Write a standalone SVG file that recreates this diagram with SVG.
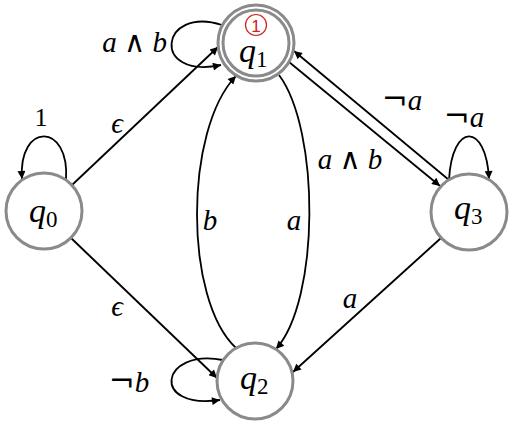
<svg xmlns="http://www.w3.org/2000/svg" width="511" height="421" viewBox="0 0 511 421">
<defs>
<marker id="arr" viewBox="0 0 10 10" refX="10" refY="5" markerWidth="10" markerHeight="8" markerUnits="userSpaceOnUse" orient="auto">
<path d="M0,0 L10,5 L0,10 z" fill="#000"/>
</marker>
<style>
.st{fill:#fff;stroke:#8a8a8a;stroke-width:3}
.e{fill:none;stroke:#000;stroke-width:1.8;marker-end:url(#arr)}
.q{font-family:"Liberation Serif","DejaVu Serif",serif;font-style:italic;font-size:34px;fill:#000}
.sub{font-family:"Liberation Serif","DejaVu Serif",serif;font-size:23px;fill:#000}
.lb{font-family:"Liberation Serif","DejaVu Serif",serif;font-style:italic;font-size:29px;fill:#000}
.and{font-family:"DejaVu Serif",serif;font-style:normal;font-size:29px}
.neg{font-family:"DejaVu Serif",serif;font-style:normal;font-size:31px}
</style>
</defs>
<rect width="511" height="421" fill="#fff"/>
<g id="edges">
<path class="e" d="M66,180 C70,122 18,122 22,179"/>
<path class="e" d="M72,185 L218,47"/>
<path class="e" d="M222,25 C160,5 150,80 221,65"/>
<path class="e" d="M279,75 C320,130 320,300 276,349"/>
<path class="e" d="M236,348 C184,300 184,130 236,76"/>
<path class="e" d="M449,180 L294,51"/>
<path class="e" d="M289,62 L440,186"/>
<path class="e" d="M449,180 C452,122 486,122 489,179"/>
<path class="e" d="M441,238 L293,372"/>
<path class="e" d="M71,238 L217,378"/>
<path class="e" d="M223,360 C160,348 150,410 220,400"/>
</g>
<g id="labels">
<text class="lb" x="41" y="126" text-anchor="middle" style="font-style:normal;font-size:26px">1</text>
<text class="lb" x="167" y="52" text-anchor="end">a <tspan class="and">∧</tspan> b</text>
<text class="lb" x="117" y="133" text-anchor="middle">ϵ</text>
<text class="lb" x="117" y="316" text-anchor="middle">ϵ</text>
<text class="lb" x="210" y="230" text-anchor="middle">b</text>
<text class="lb" x="294" y="230" text-anchor="middle">a</text>
<text class="lb" x="350" y="169" text-anchor="middle">a <tspan class="and">∧</tspan> b</text>
<text class="lb" x="402" y="110" text-anchor="middle"><tspan class="neg">¬</tspan>a</text>
<text class="lb" x="464" y="127" text-anchor="middle"><tspan class="neg">¬</tspan>a</text>
<text class="lb" x="350" y="308" text-anchor="middle">a</text>
<text class="lb" x="129" y="392" text-anchor="middle"><tspan class="neg">¬</tspan>b</text>
</g>
<g id="q0">
<circle class="st" cx="44" cy="211" r="38"/>
<text class="q" x="29" y="222">q</text><text class="sub" x="46" y="227">0</text>
</g>
<g id="q1">
<circle class="st" cx="256" cy="43" r="38"/>
<circle cx="256" cy="43" r="33" fill="none" stroke="#8a8a8a" stroke-width="3"/>
<circle cx="256" cy="25" r="10.5" fill="none" stroke="#d02020" stroke-width="1.2"/>
<text x="256" y="31.5" text-anchor="middle" font-family="Liberation Sans, sans-serif" font-size="17" fill="#d02020">1</text>
<text class="q" x="239" y="62">q</text><text class="sub" x="256" y="67">1</text>
</g>
<g id="q2">
<circle class="st" cx="255" cy="381" r="38"/>
<text class="q" x="240" y="389">q</text><text class="sub" x="257" y="394">2</text>
</g>
<g id="q3">
<circle class="st" cx="469" cy="212" r="38"/>
<text class="q" x="454" y="219">q</text><text class="sub" x="471" y="224">3</text>
</g>
</svg>
